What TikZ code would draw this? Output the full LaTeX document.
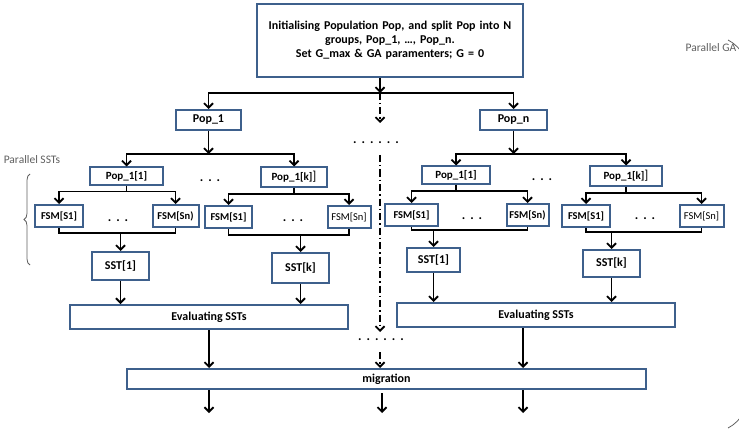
\documentclass[tikz,border=0pt]{standalone}
\usepackage{fontspec}
\setmainfont{Carlito}
\usetikzlibrary{positioning}
\usetikzlibrary{arrows.meta}
\usetikzlibrary{decorations.pathreplacing}
\definecolor{boxblue}{RGB}{62,96,140}
\definecolor{notegray}{RGB}{95,95,95}
\newcommand{\gapdots}{.\hspace{5pt}.\hspace{5pt}.\hspace{5pt}.\hspace{5pt}.\hspace{5pt}.}
\newcommand{\threedots}{.\hspace{5pt}.\hspace{5pt}.}

\begin{document}
\begin{tikzpicture}
  [x=1pt, y=-1pt,
   >={Straight Barb[length=4.5pt,width=9pt]},
   every path/.style={line width=1.8pt},
   box/.style={rectangle, draw=boxblue, line width=2pt, fill=white, inner sep=1pt, align=center,
     font=\bfseries\fontsize{12}{13}\selectfont},
   smallbox/.style={box, minimum height=17pt, font=\bfseries\fontsize{11}{12}\selectfont},
   fsmbox/.style={box, minimum width=46pt, minimum height=22pt, font=\bfseries\fontsize{10.5}{11}\selectfont},
   sstbox/.style={box, minimum width=57pt, minimum height=28pt},
   widebox/.style={box, minimum width=278pt, minimum height=24pt},
   gap/.style={->, dash pattern=on 7pt off 3pt on 1.5pt off 3pt},
   spread/.style={inner sep=0pt, font=\bfseries\fontsize{13}{13}\selectfont},
   note/.style={inner sep=0pt, text=notegray, font=\fontsize{11.5}{12}\selectfont},
   bracket/.style={draw=notegray, line width=0.8pt, decorate}]
  \useasboundingbox (0,0) rectangle (739,433);

  \node (init) [box, minimum width=266pt, minimum height=73pt, text width=258pt,
    font=\bfseries\fontsize{12}{14}\selectfont] at (390,40.5)
    {Initialising Population Pop, and split Pop into N \\ groups, Pop\_1, \dots, Pop\_n. \\ Set G\_max \& GA paramenters; G = 0};
  \node (pop1) [box, minimum width=65pt, minimum height=20pt] at (208.5,120) {Pop\_1};
  \node (popn) [box, minimum width=67pt, minimum height=20pt] at (513.5,120) {Pop\_n};

  \node (subL1) [smallbox, minimum width=73pt] at (126.5,176) {Pop\_1[1]};
  \node (subLk) [smallbox, minimum width=66pt, minimum height=19pt] at (294,177) {Pop\_1[k]{\mdseries\fontsize{13}{13}\selectfont]}};
  \node (subR1) [smallbox, minimum width=68pt] at (456,175) {Pop\_1[1]};
  \node (subRk) [smallbox, minimum width=72pt, minimum height=19pt] at (626,176) {Pop\_1[k]{\mdseries\fontsize{13}{13}\selectfont]}};

  \node (fsmL11) [fsmbox, minimum width=48pt] at (59,216) {FSM[S1]};
  \node (fsmL1n) [fsmbox] at (175.5,216) {FSM[Sn)};
  \node (fsmLk1) [fsmbox, minimum width=47pt] at (228.5,217) {FSM[S1]};
  \node (fsmLkn) [fsmbox, minimum width=43pt, font=\fontsize{10.5}{11}\selectfont] at (349,217) {FSM[Sn]};
  \node (fsmR11) [fsmbox, minimum width=53pt] at (411.5,215) {FSM[S1]};
  \node (fsmR1n) [fsmbox, minimum width=42pt] at (527.5,215) {FSM[Sn)};
  \node (fsmRk1) [fsmbox, minimum width=48pt] at (586,216) {FSM[S1]};
  \node (fsmRkn) [fsmbox, minimum width=44pt, font=\fontsize{10.5}{11}\selectfont] at (701.5,216) {FSM[Sn]};

  \node (sstL1) [sstbox] at (120.5,266) {SST[1]};
  \node (sstLk) [sstbox, minimum height=30pt] at (300.5,268) {SST[k]};
  \node (sstR1) [sstbox, minimum width=53pt, minimum height=24pt] at (433.5,260) {SST[1]};
  \node (sstRk) [sstbox, minimum height=27pt] at (611.5,263.5) {SST[k]};

  \node (evalL) [widebox] at (209,317) {Evaluating SSTs};
  \node (evalR) [widebox] at (536,315) {Evaluating SSTs};
  \node (mig) [box, minimum width=519pt, minimum height=20pt] at (386.5,379) {migration};

  \node (dotsTop) [spread] at (210,181) {\threedots};
  \node (dotsL1) [spread] at (118,221) {\threedots};
  \node (dotsLk) [spread] at (293,221) {\threedots};
  \node (dotsRTop) [spread] at (542,180) {\threedots};
  \node (dotsR1) [spread] at (472,219) {\threedots};
  \node (dotsRk) [spread] at (645,219) {\threedots};
  \node (gapA) [spread] at (376,143) {\gapdots};
  \node (gapB) [spread] at (381,340) {\gapdots};

  \node (sstNote) [note] at (32,160) {Parallel SSTs};
  \node (gaNote) [note] at (711,48) {Parallel GA};

  \coordinate (split) at (380,93);
  \coordinate (dashA) at (380,123);
  \coordinate (dashB) at (380,155);
  \coordinate (dashC) at (380,332);
  \coordinate (dashD) at (380,352);
  \coordinate (joinL1) at (120.5,233);
  \coordinate (joinLk) at (300.5,235);
  \coordinate (joinR1) at (433.5,230);
  \coordinate (joinRk) at (611.5,232);
  \coordinate (outL) at (209,413);
  \coordinate (outM) at (382,413);
  \coordinate (outR) at (523,413);

  \draw[->] (init.south -| split) -- (split);
  \draw[->] (split) -| (pop1);
  \draw[->] (split) -| (popn);

  \draw[->] (pop1.south) -- ++(0,23) coordinate (busL);
  \draw[->] (busL) -| (subL1);
  \draw[->] (busL) -| (subLk);
  \draw[->] (popn.south) -- ++(0,23) coordinate (busR);
  \draw[->] (busR) -| (subR1);
  \draw[->] (busR) -| (subRk);

  \draw (subL1.south) -- ++(0,6) coordinate (busL1);
  \draw[->] (busL1) -| (fsmL11);
  \draw[->] (busL1) -| (fsmL1n);
  \draw (subLk.south) -- ++(0,6.5) coordinate (busLk);
  \draw[->] (busLk) -| (fsmLk1);
  \draw[->] (busLk) -| (fsmLkn);
  \draw (subR1.south) -- ++(0,6.5) coordinate (busR1);
  \draw[->] (busR1) -| (fsmR11);
  \draw[->] (busR1) -| (fsmR1n);
  \draw (subRk.south) -- ++(0,6.5) coordinate (busRk);
  \draw[->] (busRk) -| (fsmRk1);
  \draw[->] (busRk) -| (fsmRkn);

  \draw (fsmL11) |- (joinL1) -| (fsmL1n);
  \draw[->] (joinL1) -- (sstL1);
  \draw (fsmLk1) |- (joinLk) -| (fsmLkn);
  \draw[->] (joinLk) -- (sstLk);
  \draw (fsmR11) |- (joinR1) -| (fsmR1n);
  \draw[->] (joinR1) -- (sstR1);
  \draw (fsmRk1) |- (joinRk) -| (fsmRkn);
  \draw[->] (joinRk) -- (sstRk);

  \draw[->] (sstL1) -- (sstL1 |- evalL.north);
  \draw[->] (sstLk) -- (sstLk |- evalL.north);
  \draw[->] (sstR1) -- (sstR1 |- evalR.north);
  \draw[->] (sstRk) -- (sstRk |- evalR.north);

  \draw[->] (evalL) -- (evalL |- mig.north);
  \draw[->] (evalR.south -| outR) -- (outR |- mig.north);

  \draw[gap] (split) -- (dashA);
  \draw[gap] (dashB) -- (dashC);
  \draw[gap] (dashD) -- (dashD |- mig.north);

  \draw[->] (mig.south -| outL) -- (outL);
  \draw[->] ([yshift=-3pt]mig.south -| outM) -- (outM);
  \draw[->] (mig.south -| outR) -- (outR);

  \draw[bracket, decoration={brace, amplitude=6pt}] (30,265) -- (30,174);
  \draw[bracket, decoration={brace, amplitude=44pt}] (728,40) -- (728,428);
\end{tikzpicture}
\end{document}
